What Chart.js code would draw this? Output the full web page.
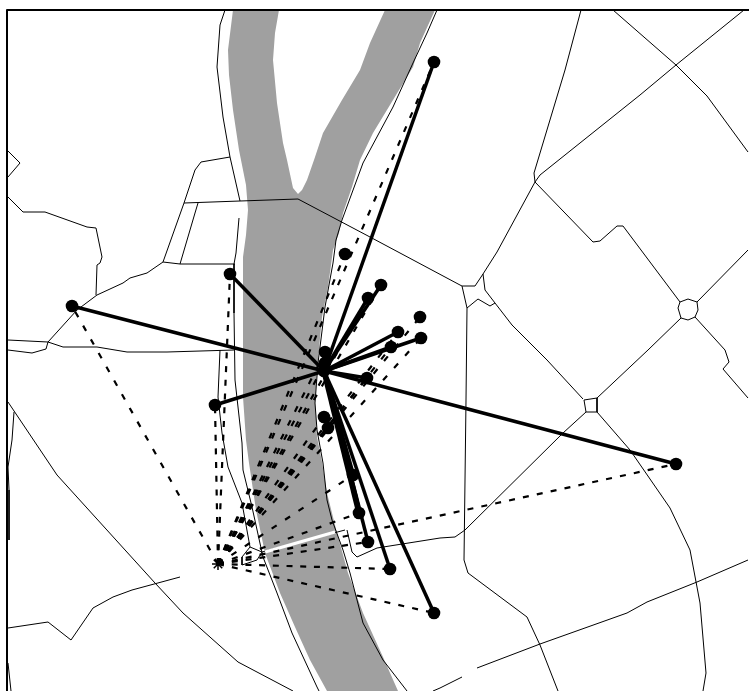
<!DOCTYPE html>
<html><head><meta charset="utf-8">
<script src="https://cdn.jsdelivr.net/npm/chart.js@4"></script>
<style>html,body{margin:0;padding:0;background:#fff}canvas{display:block}</style>
</head><body><canvas id="c" width="749" height="691"></canvas>
<script>
const river = [[233,10],[228,50],[229,75],[233,110],[239,150],[246,185],[248,210],[246,235],[243,257],[243,340],[243,397],[246,440],[249,463],[256,510],[265,553],[280,593],[295,627],[310,660],[327,691],
[398,691],[383,657],[363,613],[348,573],[337,533],[327,493],[322,462],[317,437],[315,403],[317,370],[322,317],[328,287],[333,250],[339,233],[343,213],[352,187],[360,160],[373,133],[393,100],[413,67],[420,43],[435,10],
[385,10],[370,43],[360,70],[342,100],[323,133],[314,160],[307,180],[302,190],[298,194],[293,188],[287,160],[283,143],[277,103],[273,60],[275,33],[279,10]];
const bridge = [[265,552],[335,532]];
const frame = [[7,691],[7,10],[749,10]];
const roads = [
 [[225,10],[220,25],[217,67],[223,117],[230,157],[240,201]],
 [[230,157],[201,162],[195,170],[184,203],[163,262],[180,264],[235,264]],
 [[184,203],[240,201],[298,199],[370,237],[460,285],[462,286]],
 [[198,203],[195,213],[180,264]],
 [[239,218],[236,253],[234,264],[234,313],[235,380],[242,443],[243,470],[252,507],[263,557],[277,593],[292,633],[317,687],[319,691]],
 [[220,350],[218,397],[222,433],[228,467],[242,503],[250,547],[262,552],[345,530]],
 [[250,547],[242,557],[242,565],[257,560],[262,552]],
 [[8,340],[48,342],[63,347],[97,347],[127,352],[167,352],[234,350]],
 [[8,350],[32,353],[46,349],[48,342],[77,310],[97,295],[123,283],[130,278],[147,273],[163,262]],
 [[8,197],[23,212],[45,212],[87,227],[96,228],[102,257],[100,263],[97,265],[96,295]],
 [[8,151],[20,163],[8,177]],
 [[581,10],[565,70],[534,173],[535,182],[497,252],[483,274],[475,286],[462,286],[467,308],[466,400],[464,560],[468,573],[527,617],[540,645],[558,691]],
 [[483,274],[485,290],[495,303],[490,306],[478,299],[467,308]],
 [[495,303],[512,325],[530,343],[547,360],[583,399]],
 [[584,400],[597,398],[597,412],[586,412],[584,400]],
 [[597,398],[648,350],[681,318]],
 [[680,302],[688,299],[697,302],[698,310],[695,317],[688,320],[681,318],[678,308],[680,302]],
 [[697,302],[748,250]],
 [[680,302],[623,226],[617,226],[600,241],[593,242],[535,182]],
 [[535,182],[540,175],[640,95],[676,65],[744,10]],
 [[613,10],[676,65],[707,96],[748,152]],
 [[695,317],[725,350],[729,362],[723,369],[748,398]],
 [[586,412],[563,433],[465,530],[455,537],[440,538],[377,548],[357,557],[352,552],[347,530]],
 [[597,412],[630,450],[670,508],[690,550],[700,603],[706,673],[703,691]],
 [[748,560],[697,582],[647,602],[627,613],[540,644],[477,668]],
 [[462,677],[440,688],[433,691]],
 [[437,10],[427,33],[413,63],[393,107],[363,163],[342,220],[336,240],[333,263],[325,307],[318,363],[315,403],[317,430],[323,463],[327,500],[332,520],[343,550],[350,573],[363,623],[383,660],[407,691]],
 [[8,402],[57,475],[155,583],[183,613],[238,662],[293,691]],
 [[8,628],[48,622],[71,640],[93,608],[113,597],[132,590],[180,577]],
 [[14,412],[12,440],[8,467],[9,490],[9,540]],
 [[8,663],[11,691]]
];
const hubSolid = [324,371];
const hubDashed = [218,564];
const solidTargets = [[434,62],[381,285],[368,298],[398,332],[421,338],[391,347],[325,352],[325,363],[367,378],[230,274],[72,306],[215,405],[676,464],[434,613],[390,569],[368,542],[359,513],[353,475]];
const dashOnlyTargets = [[345,254],[420,317],[324,417],[328,428]];

const xy = p => ({x:p[0], y:p[1]});
const solidWidth = t => (t[0]===359 ? 5.5 : t[0]===353 ? 4.5 : 3.5);
const dashFor = t => {
  const a = Math.atan2(t[1]-hubDashed[1], t[0]-hubDashed[0]);
  const s = Math.sin(2*a);
  return [6, 7.7 + 2.8*s*s];
};
const ds = [];
ds.push({data:river.map(xy), showLine:true, fill:'shape', backgroundColor:'#a0a0a0', borderWidth:0, borderColor:'#a0a0a0', pointRadius:0, order:6});
roads.forEach(r=>ds.push({data:r.map(xy), showLine:true, borderColor:'#000', borderWidth:1, pointRadius:0, order:5}));
ds.push({data:bridge.map(xy), showLine:true, borderColor:'#fff', borderWidth:3, pointRadius:0, order:4});
[...solidTargets,...dashOnlyTargets].forEach(t=>ds.push({data:[hubDashed,t].map(xy), showLine:true, borderColor:'#000', borderWidth:2.2, borderDash:dashFor(t), pointRadius:0, order:3}));
solidTargets.forEach(t=>ds.push({data:[hubSolid,t].map(xy), showLine:true, borderColor:'#000', borderWidth:solidWidth(t), pointRadius:0, order:2}));
ds.push({data:[...solidTargets,...dashOnlyTargets,hubSolid].map(xy), showLine:false, backgroundColor:'#000', borderColor:'#000', borderWidth:0, pointRadius:6.3, pointStyle:'circle', order:1});
ds.push({data:[hubDashed].map(xy), showLine:false, backgroundColor:'#000', borderColor:'#000', borderWidth:1.5, pointRadius:6, pointStyle:'star', order:1});
ds.push({data:frame.map(xy), showLine:true, borderColor:'#000', borderWidth:2, pointRadius:0, clip:false, order:0});

new Chart(document.getElementById('c'),{
 type:'scatter',
 data:{datasets:ds},
 options:{
  responsive:false, animation:false, events:[],
  layout:{padding:0,autoPadding:false},
  plugins:{legend:{display:false},tooltip:{enabled:false},title:{display:false}},
  elements:{line:{tension:0,borderCapStyle:'butt',borderJoinStyle:'round'}},
  scales:{
   x:{type:'linear',min:0,max:749,display:false},
   y:{type:'linear',min:0,max:691,reverse:true,display:false}
  }
 }
});
</script></body></html>
